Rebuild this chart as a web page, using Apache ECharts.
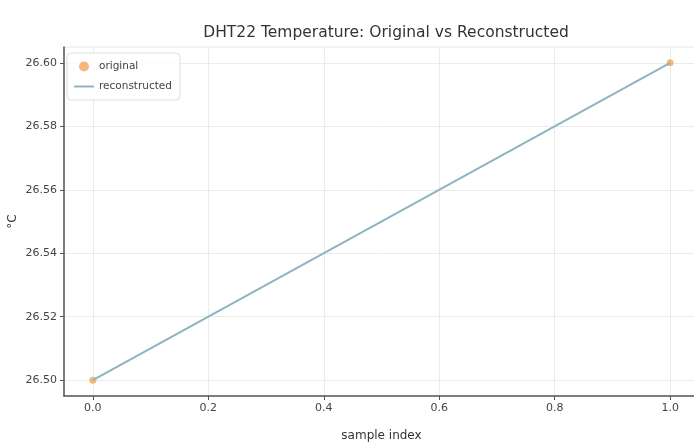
<!DOCTYPE html>
<html><head><meta charset="utf-8">
<script src="https://cdn.jsdelivr.net/npm/echarts@6/dist/echarts.min.js"></script>
<style>html,body{margin:0;padding:0;background:#fff}#c{width:694px;height:448px}</style>
</head><body><div id="c"></div>
<script>
const sampleIndex = [0, 1];
const original = [26.50, 26.60];
const reconstructed = [26.50, 26.60];
const xTicks = [0.0, 0.2, 0.4, 0.6, 0.8, 1.0];
const yTicks = [26.50, 26.52, 26.54, 26.56, 26.58, 26.60];

const chart = echarts.init(document.getElementById('c'), null, {renderer: 'canvas'});
const font = 'DejaVu Sans';
chart.setOption({
  animation: false,
  backgroundColor: '#fff',
  title: {text: 'DHT22 Temperature: Original vs Reconstructed', left: 381, top: 20, textAlign: 'center',
    textStyle: {fontFamily: font, fontSize: 15.5, fontWeight: 'normal', color: '#333'}},
  grid: {left: 64, top: 47, width: 635, height: 349, show: true, borderColor: '#e6e6e6', borderWidth: 1,
    outerBoundsMode: 'none', containLabel: false},
  legend: {left: 67, top: 53, orient: 'vertical', itemGap: 9, itemWidth: 20, itemHeight: 10,
    padding: [8, 8, 8, 6], borderColor: '#dddddd', borderWidth: 1, borderRadius: 4, backgroundColor: 'rgba(255,255,255,0.8)',
    textStyle: {fontFamily: font, fontSize: 10.5, color: '#444'},
    data: [{name: 'original', icon: 'circle'}, {name: 'reconstructed', itemStyle: {opacity: 0}}]},
  xAxis: {type: 'value', min: -0.05, max: 1.05,
    name: 'sample index', nameLocation: 'middle', nameGap: 34,
    nameTextStyle: {fontFamily: font, fontSize: 12, color: '#333'},
    axisLine: {show: true, onZero: false, lineStyle: {color: '#555', width: 1.5}},
    axisTick: {show: true, length: 4, customValues: xTicks, lineStyle: {color: '#555'}},
    axisLabel: {customValues: xTicks, fontFamily: font, fontSize: 11, color: '#444', margin: 7,
      formatter: v => v.toFixed(1)},
    splitLine: {show: true, lineStyle: {color: '#ebebeb', width: 1}}},
  yAxis: {type: 'value', min: 26.495, max: 26.605,
    name: '°C', nameLocation: 'middle', nameGap: 45, nameRotate: 90, nameMoveOverlap: false,
    nameTextStyle: {fontFamily: font, fontSize: 12, color: '#333'},
    axisLine: {show: true, onZero: false, lineStyle: {color: '#555', width: 1.5}},
    axisTick: {show: true, length: 4, customValues: yTicks, lineStyle: {color: '#555'}},
    axisLabel: {customValues: yTicks, fontFamily: font, fontSize: 11, color: '#444', margin: 7,
      formatter: v => v.toFixed(2)},
    splitLine: {show: true, lineStyle: {color: '#ebebeb', width: 1}}},
  series: [
    {name: 'original', type: 'scatter', symbol: 'circle', symbolSize: 7,
      itemStyle: {color: '#f5a55a'},
      data: sampleIndex.map((x, i) => [x, original[i]]), z: 2},
    {name: 'reconstructed', type: 'line', showSymbol: false, symbol: 'none',
      lineStyle: {color: '#8fb4c0', width: 2},
      itemStyle: {color: '#a8d8e8'},
      data: sampleIndex.map((x, i) => [x, reconstructed[i]]), z: 3}
  ]
});
</script></body></html>
